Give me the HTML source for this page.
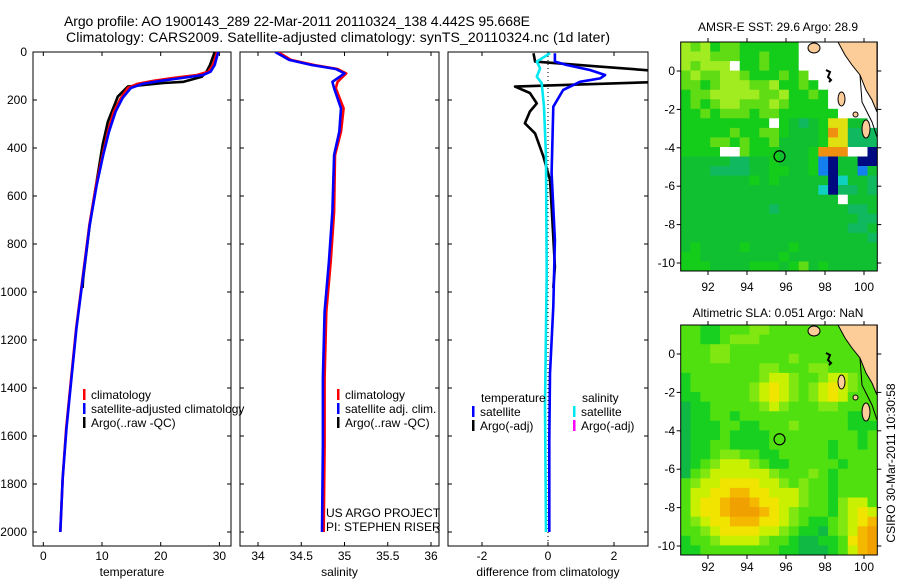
<!DOCTYPE html>
<html><head><meta charset="utf-8"><style>
html,body{margin:0;padding:0;background:#fff;}
svg{display:block;font-family:"Liberation Sans",sans-serif;}
</style></head><body>
<svg id="fig" width="900" height="580" viewBox="0 0 900 580" xmlns="http://www.w3.org/2000/svg">
<defs>
<clipPath id="c1"><rect x="33" y="52" width="198" height="494"/></clipPath>
<clipPath id="c2"><rect x="240" y="52" width="199" height="494"/></clipPath>
<clipPath id="c3"><rect x="448" y="52" width="200" height="494"/></clipPath>
<clipPath id="m1"><rect x="681" y="42" width="196" height="229"/></clipPath>
<clipPath id="m2"><rect x="681" y="325" width="196" height="230"/></clipPath>
</defs>
<text x="64" y="26" font-size="14" textLength="466">Argo profile: AO 1900143_289 22-Mar-2011 20110324_138 4.442S 95.668E</text>
<text x="66" y="42" font-size="14" textLength="544">Climatology: CARS2009. Satellite-adjusted climatology: synTS_20110324.nc (1d later)</text>
<g id="g1"></g>
<g id="g2"></g>
<g id="g3"></g>
<g id="gm1"></g>
<g id="gm2"></g>
<text transform="translate(895,463) rotate(-90)" text-anchor="middle" font-size="12">CSIRO 30-Mar-2011 10:30:58</text>
</svg>
<script>
// ---- data ----
const tempDepth = [0,54,82,96,108,120,133,150,192,249,332,429,554,721,942,1150,1358,1567,1775,2000];
const tempClim  = [29.6,28.9,28.1,26.2,22.2,18.8,16.0,14.4,13.2,12.0,11.0,10.1,9.0,7.85,6.7,5.6,4.75,3.9,3.3,2.9];
const tempSat   = [29.8,29.2,28.5,27.2,23.8,20.0,16.9,14.9,13.5,12.3,11.2,10.2,9.1,7.9,6.75,5.65,4.8,3.95,3.3,2.9];
const argoDepth = [0,54,82,103,124,129,144,186,290,387,554,721,942,983];
const argoTemp  = [29.2,28.4,27.8,27.0,23.9,20.5,14.4,12.7,11.0,10.1,9.0,7.9,6.8,6.7];
const salDepth  = [0,33,54,71,89,124,151,235,332,429,665,874,1082,1358,1638,2000];
const salClim   = [34.23,34.38,34.65,34.92,35.02,34.92,34.90,34.99,34.96,34.89,34.88,34.84,34.79,34.77,34.77,34.76];
const salSat    = [34.20,34.36,34.62,34.90,35.00,34.86,34.88,34.96,34.94,34.88,34.86,34.82,34.77,34.75,34.75,34.74];
const dTDepth   = [5,40,54,75,96,110,124,158,228,505,783,1061,1339,1617,2000];
const dTSat     = [0.21,0.21,0.57,1.27,1.73,1.58,0.97,0.46,0.16,0.11,0.21,0.16,0.06,0.04,0.04];
const dSDepth   = [5,40,68,103,130,228,436,922,1478,2000];
const dSSat     = [0.06,-0.34,-0.24,-0.34,-0.19,-0.12,-0.06,-0.04,-0.09,-0.06];
const dADepth   = [5,40,60,82,110,125,135,144,171,214,248,297,339,436,533,644,894,983];
const dArgo     = [-0.44,-0.39,1.5,3.6,4.2,3.3,1.0,-1.0,-0.55,-0.34,-0.55,-0.7,-0.39,-0.14,0.06,0.11,0.21,0.16];
const depthTicks = [0,200,400,600,800,1000,1200,1400,1600,1800,2000];
const tempTicks = [0,10,20,30];
const salTicks = [34,34.5,35,35.5,36];
const salTickLabels = ["34","34.5","35","35.5","36"];
const diffTicks = [-2,0,2];
const lonTicks = [92,94,96,98,100];
const latTicks = [0,-2,-4,-6,-8,-10];
const argoLon = 95.668, argoLat = -4.442;
const sstGrid = [
"abacbbccccccwwwwwwww",
"aaabbbccbcccwwwwwwww",
"abaaawccbcccwwwwwwww",
"babbaabcccbcbwwwwwww",
"bbcbaaabbaccbcwwwwww",
"cbbaaaaabbaccbcwwwww",
"cbcbaabbbabccccwwwww",
"ccbcbbbcbbccccccwwww",
"cccccccccwcdedcyyddw",
"cccccbccbbcdddcoyeee",
"cccbbcbccbddddcyyeee",
"ccccwwbcccdddcooowwn",
"dddddeeddcdddcBnddnn",
"dddeeeeddccddcBnddBd",
"dddddddcdcdddddnfdde",
"ddddddddddddddfneede",
"ddddddddddddddddwddd",
"dddddddddedddddddeed",
"ddddddddddddddddddee",
"dddddddddddddddddeed",
"ddddddddddddddddddde",
"dcddddcddddcdddddddd",
"ccddddddddcddddddddd",
"cccddddcccdcbdcddddd"];
const slaGrid = [
"hhgghhhHHhhhhhhhhhhh",
"hhgghHHHhhhhhhhhhhhh",
"hhhHHhhhhhhhhhhhhhhh",
"hhhHHhhhhhhHhhhhhhhh",
"hhhhhhhhHHhhhHHhhhhh",
"ghhhhhhhHyyHhhHyyHhh",
"ghhhhhhHyYyHhHyYyHhh",
"gghhhhhHyYyHhHyYyhhh",
"tgghhhhhHyHhhhHHhhhh",
"tgghhghhhhhhhhhhhggh",
"tggghhgghhhHhhhhhggg",
"tggghgggghhhhhhhhhgh",
"tgghhgggghhhhhhghhgh",
"tgghHHhhgghhhhhghhhh",
"tghHyyyHhgghhhhhghhh",
"thHyyyyyyHhhhHhghhhh",
"hHyyYYYYyyHhHhhghhhh",
"hyyYYOOYYyyyHhhghhhh",
"hyYYOPPOYYyyHhhgHyyh",
"hyYYOPPPOYyHhhhgHyYy",
"hHyYYOOOYYyHhgghHyYO",
"hhHyYYYYyyHhggthHyOP",
"ghhHyyyyHhhgttgghYOP",
"gghhhhhhhhggtttghyOP"];
const sstPal = {a:"#a0ec20",b:"#60dc14",c:"#14cc1a",d:"#10c030",e:"#10b860",f:"#10d0c0",o:"#f09010",y:"#e0e010",n:"#000a80",B:"#1480f0",w:"#ffffff"};
const slaPal = {h:"#50e010",H:"#80e810",g:"#18d020",y:"#c8f000",Y:"#f0e400",O:"#f4b800",P:"#f0a000",t:"#10b844"};

const NS="http://www.w3.org/2000/svg";
function mk(tag,attrs,parent){const e=document.createElementNS(NS,tag);for(const k in attrs)e.setAttribute(k,attrs[k]);parent.appendChild(e);return e;}
const yD = d => 52 + d*0.24;

function panel(g,x0,x1,xs,ticks,labels,clip,xlabel,showY){
  mk('rect',{x:x0,y:52,width:x1-x0,height:494,fill:'none',stroke:'#000','stroke-width':1},g);
  depthTicks.forEach(d=>{
    mk('line',{x1:x0,x2:x0+4,y1:yD(d),y2:yD(d),stroke:'#000'},g);
    mk('line',{x1:x1-4,x2:x1,y1:yD(d),y2:yD(d),stroke:'#000'},g);
    if(showY){const t=mk('text',{x:27,y:yD(d)+4,'font-size':12,'text-anchor':'end'},g);t.textContent=d;
      
      }
  });
  ticks.forEach((v,i)=>{
    mk('line',{x1:xs(v),x2:xs(v),y1:52,y2:56,stroke:'#000'},g);
    mk('line',{x1:xs(v),x2:xs(v),y1:542,y2:546,stroke:'#000'},g);
    const t=mk('text',{x:xs(v),y:560,'font-size':12,'text-anchor':'middle'},g);t.textContent=labels[i];
    
    
  });
  const t=mk('text',{x:(x0+x1)/2,y:576,'font-size':12,'text-anchor':'middle'},g);t.textContent=xlabel;
  
  
}
function line(g,xs,vals,depths,color,clip,name,w){
  const pts=vals.map((v,i)=>xs(v).toFixed(1)+','+yD(depths[i]).toFixed(1)).join(' ');
  const p=mk('polyline',{points:pts,fill:'none',stroke:color,'stroke-width':w||2.6,'clip-path':'url(#'+clip+')','stroke-linejoin':'round'},g);
  
  
}
function legend(g,x,y,color,text,name){
  mk('rect',{x:x,y:y-9,width:2.5,height:11,fill:color},g);
  const t=mk('text',{x:x+8,y:y+1,'font-size':12},g);t.textContent=text;
  
  
}
// temperature
const g1=document.getElementById('g1');
const xT=v=>43.3+v*5.87;
panel(g1,33,231,xT,tempTicks,tempTicks.map(String),'c1','temperature',true);
line(g1,xT,argoTemp,argoDepth,'#000','c1','argo-temperature-line');
line(g1,xT,tempClim,tempDepth,'#ff0000','c1','climatology-temperature-line');
line(g1,xT,tempSat,tempDepth,'#0000ff','c1','satellite-temperature-line');
legend(g1,83,398,'#ff0000','climatology','legend-climatology');
legend(g1,83,412,'#0000ff','satellite-adjusted climatology','legend-satellite');
legend(g1,83,426,'#000','Argo(..raw -QC)','legend-argo');
// salinity
const g2=document.getElementById('g2');
const xS=v=>258+(v-34)*86.5;
panel(g2,240,439,xS,salTicks,salTickLabels,'c2','salinity',false);
line(g2,xS,salClim,salDepth,'#ff0000','c2','climatology-salinity-line');
line(g2,xS,salSat,salDepth,'#0000ff','c2','satellite-salinity-line');
legend(g2,337,398,'#ff0000','climatology','legend-climatology-sal');
legend(g2,337,412,'#0000ff','satellite adj. clim.','legend-satellite-sal');
legend(g2,337,426,'#000','Argo(..raw -QC)','legend-argo-sal');
[['US ARGO PROJECT',517],['PI: STEPHEN RISER',531]].forEach(a=>{const t=mk('text',{x:326,y:a[1],'font-size':12},g2);t.textContent=a[0];
  
  });
// differences
const g3=document.getElementById('g3');
const xD=v=>548+v*33;
panel(g3,448,648,xD,diffTicks,diffTicks.map(String),'c3','difference from climatology',false);
mk('line',{x1:548,x2:548,y1:52,y2:546,stroke:'#000','stroke-dasharray':'1,3'},g3);
line(g3,xD,dArgo,dADepth,'#000','c3','argo-temperature-difference');
line(g3,xD,dSSat,dSDepth,'#00e8f0','c3','satellite-salinity-difference');
line(g3,xD,dTSat,dTDepth,'#0000ff','c3','satellite-temperature-difference');
{const t=mk('text',{x:481,y:402,'font-size':12},g3);t.textContent='temperature';
 
 
 const s=mk('text',{x:582,y:402,'font-size':12},g3);s.textContent='salinity';
 
 }
legend(g3,472,415,'#0000ff','satellite','legend-temp-satellite');
legend(g3,472,429,'#000','Argo(-adj)','legend-temp-argo');
legend(g3,573,415,'#00e8f0','satellite','legend-sal-satellite');
legend(g3,573,429,'#ff00ff','Argo(-adj)','legend-sal-argo');

// maps
function map(gid,top,bottom,grid,pal,clip,title,titleY,labY){
  const g=document.getElementById(gid);
  const L=680.7,R=877.3;
  const lonX=v=>680.7+(v-90.6)*19.5;
  const y0lat = top===42 ? 71 : 354;
  const latY=v=>y0lat-v*19.2;
  const rows=grid.length, cols=grid[0].length;
  const cw=(R-L)/cols, ch=(bottom-top)/rows;
  const cg=mk('g',{'clip-path':'url(#'+clip+')'},g);
  grid.forEach((row,r)=>{[...row].forEach((c,k)=>{
    const rc=mk('rect',{x:(L+k*cw).toFixed(1),y:(top+r*ch).toFixed(1),width:(cw+0.6).toFixed(1),height:(ch+0.6).toFixed(1),fill:pal[c]},cg);
    
    
  });});
  const land=mk('polygon',{points:[[838,top],[845,top+13],[852,top+23],[860,top+33],[866,top+48],[872,top+58],[877,top+70],[877,top]].map(p=>p.join(',')).join(' '),fill:'#fccc99',stroke:'#000','stroke-width':1},cg);
  
  
  [[808,top+1,12,10],[838,top+50,7,14],[862,top+78,8,18],[853,top+70,5,5]].forEach(b=>{
    const e=mk('ellipse',{cx:b[0]+b[2]/2,cy:b[1]+b[3]/2,rx:b[2]/2,ry:b[3]/2,fill:'#fccc99',stroke:'#000'},cg);
    
    
  });
  mk('path',{d:`M${826} ${top+28} l4 2 l-2 5 l3 3 l-2 2`,fill:'none',stroke:'#000','stroke-width':2},cg);
  mk('polyline',{points:`860,${top+33} 862,${top+60} 872,${top+80} 877,${top+95}`,fill:'none',stroke:'#000'},cg);
  mk('rect',{x:L,y:top,width:R-L,height:bottom-top,fill:'none',stroke:'#000'},g);
  lonTicks.forEach(v=>{
    mk('line',{x1:lonX(v),x2:lonX(v),y1:bottom,y2:bottom+4,stroke:'#000'},g);
    mk('line',{x1:lonX(v),x2:lonX(v),y1:top-4,y2:top,stroke:'#000'},g);
    const t=mk('text',{x:lonX(v),y:labY,'font-size':12,'text-anchor':'middle'},g);t.textContent=v;
    
    
  });
  latTicks.forEach(v=>{
    mk('line',{x1:L-4,x2:L,y1:latY(v),y2:latY(v),stroke:'#000'},g);
    mk('line',{x1:R,x2:R+4,y1:latY(v),y2:latY(v),stroke:'#000'},g);
    const t=mk('text',{x:675,y:latY(v)+4,'font-size':12,'text-anchor':'end'},g);t.textContent=v;
    
    
  });
  const c=mk('circle',{cx:lonX(argoLon),cy:latY(argoLat),r:5.5,fill:'none',stroke:'#000','stroke-width':1.2},g);
  
  
  const t=mk('text',{x:778,y:titleY,'font-size':12,'text-anchor':'middle'},g);t.textContent=title;
  
  
}
map('gm1',42,271,sstGrid,sstPal,'m1','AMSR-E SST: 29.6 Argo: 28.9',31,291);
map('gm2',325,555,slaGrid,slaPal,'m2','Altimetric SLA: 0.051 Argo: NaN',317,571);
</script>
</body></html>
